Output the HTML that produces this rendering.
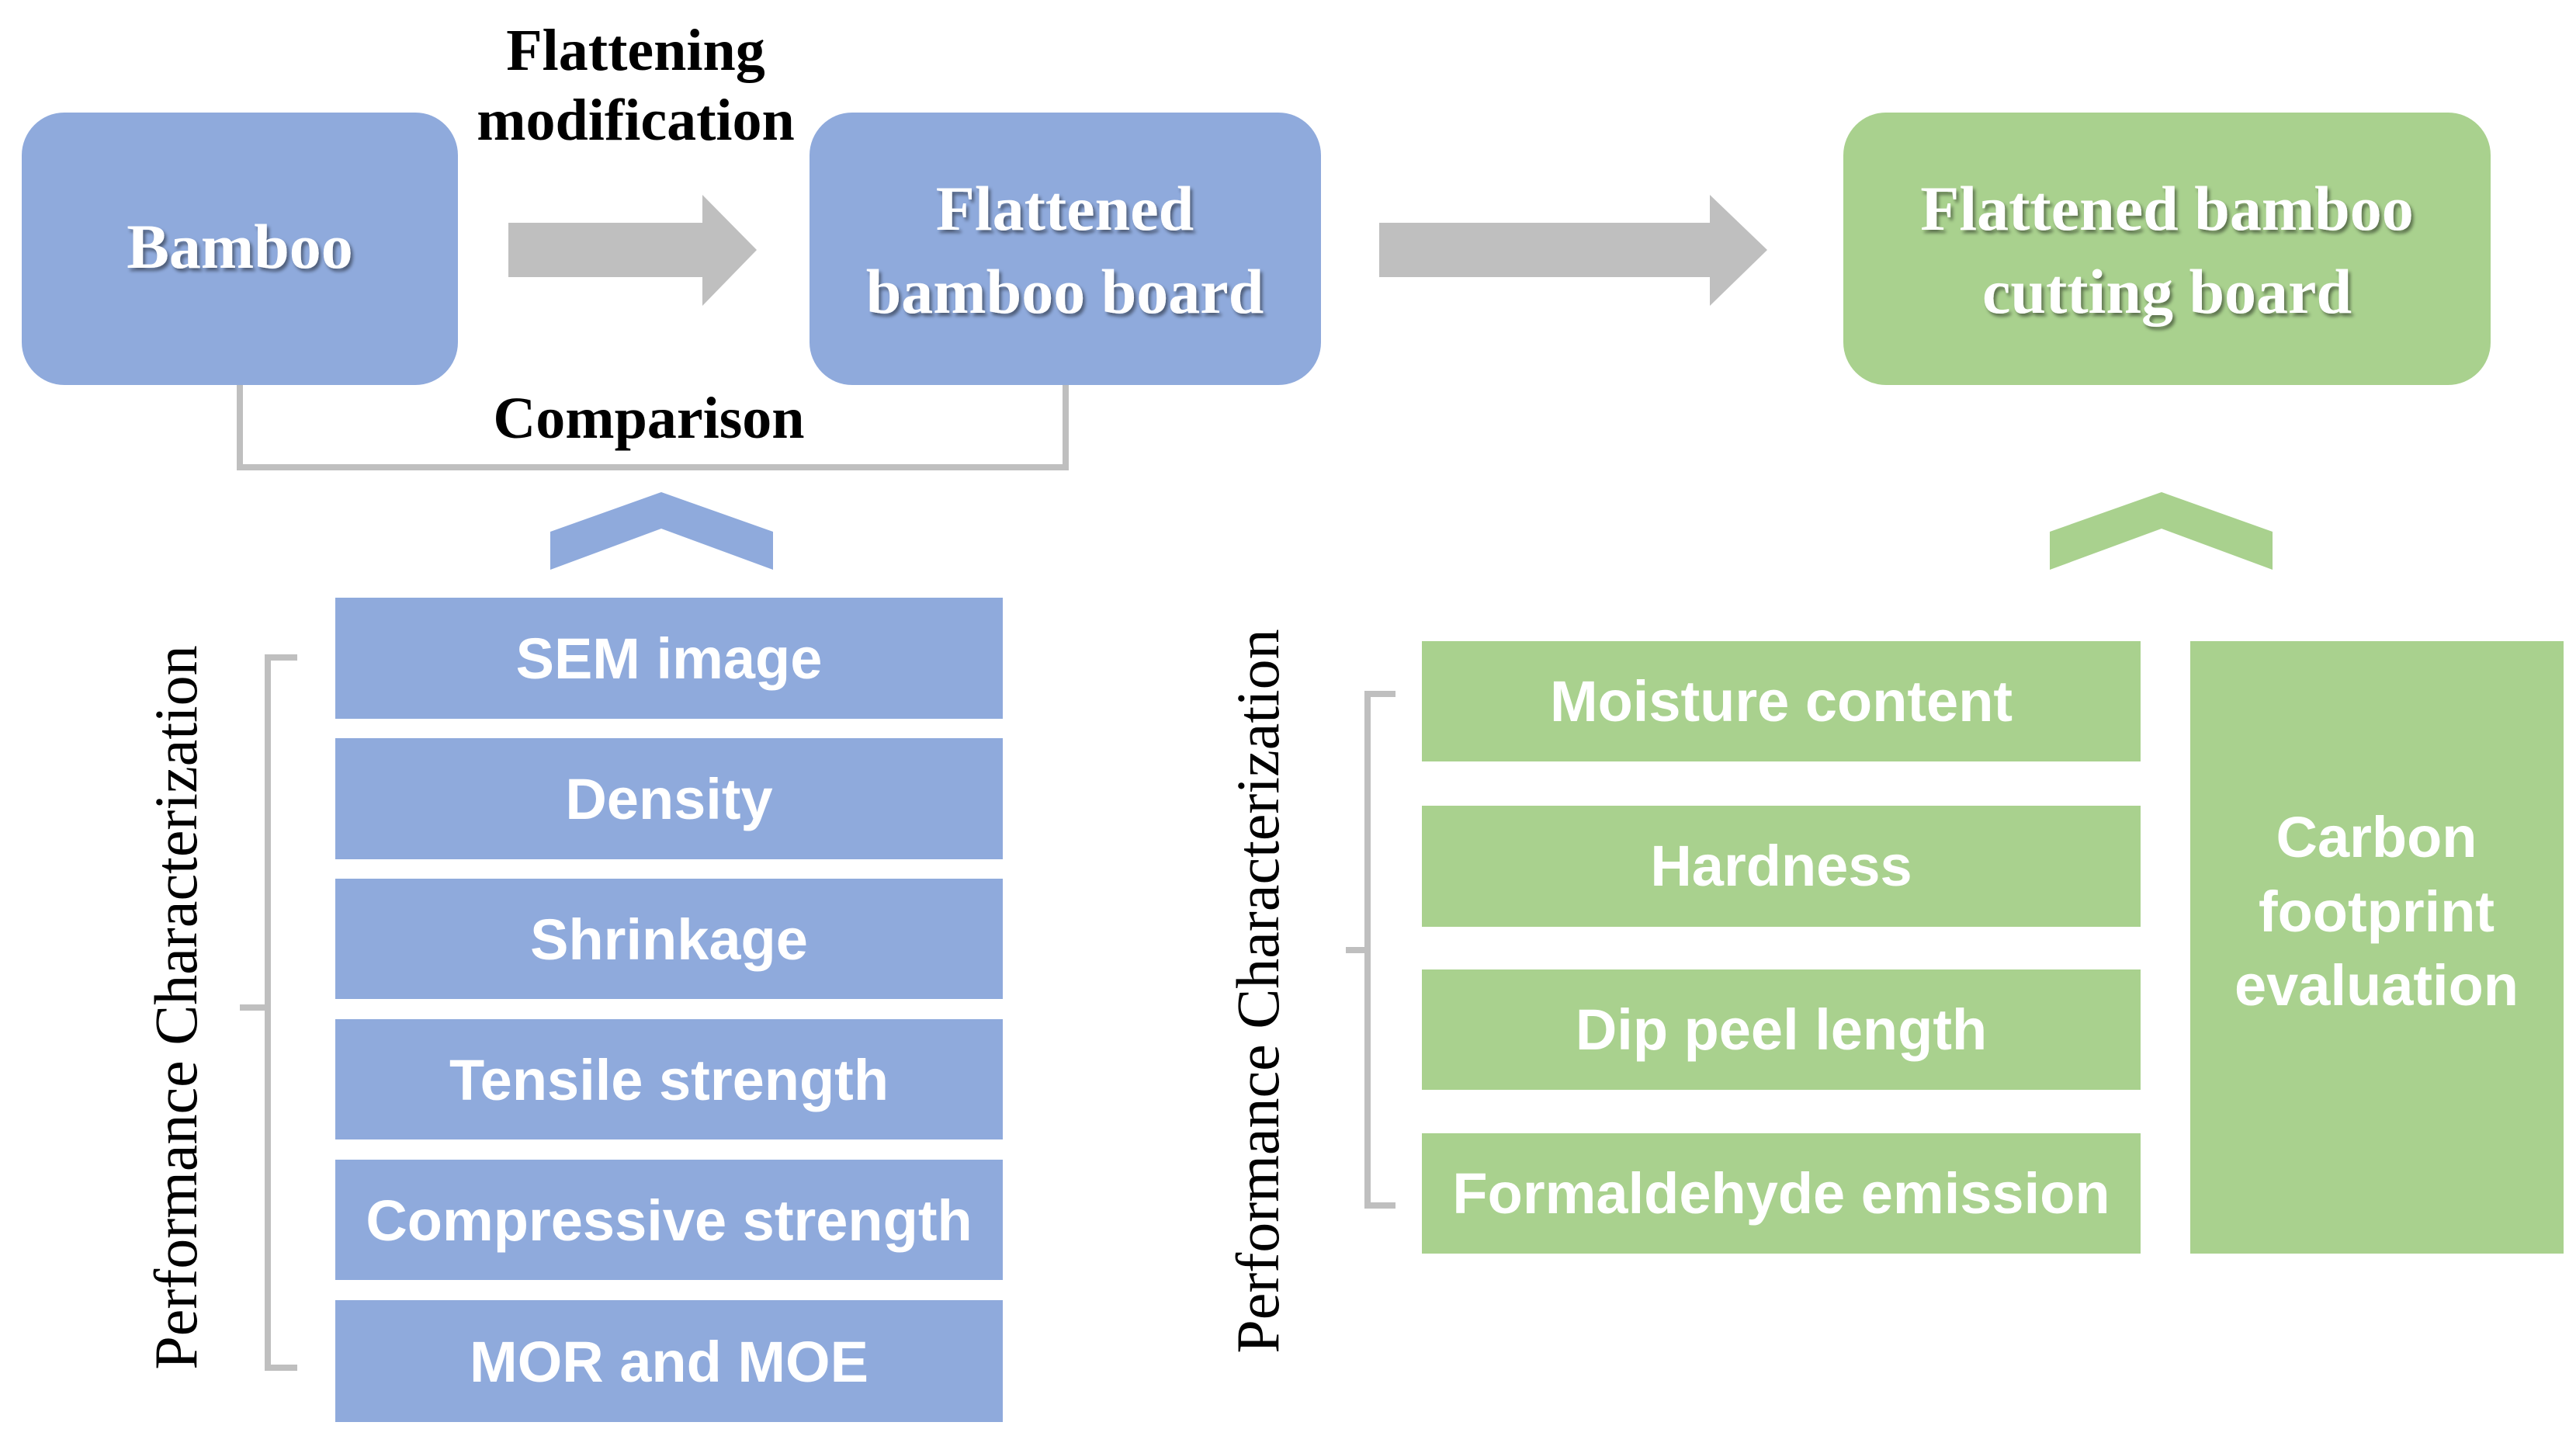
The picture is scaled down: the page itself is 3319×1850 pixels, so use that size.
<!DOCTYPE html>
<html><head><meta charset="utf-8"><style>
html,body{margin:0;padding:0;background:#fff;}
svg{display:block;}
.t{font-family:"Liberation Serif",serif;font-weight:bold;fill:#fff;text-anchor:middle;}
.k{font-family:"Liberation Serif",serif;fill:#000;text-anchor:middle;}
.s{font-family:"Liberation Sans","DejaVu Sans",sans-serif;font-weight:bold;fill:#fff;text-anchor:middle;}
</style></head><body>
<svg width="3319" height="1850" viewBox="0 0 3319 1850" xmlns="http://www.w3.org/2000/svg">
<defs><filter id="sh" x="-10%" y="-10%" width="120%" height="130%"><feDropShadow dx="3" dy="4" stdDeviation="2" flood-color="#000" flood-opacity="0.45"/></filter></defs>
<rect x="28" y="145" width="562" height="351" rx="55" fill="#8faadc"/>
<rect x="1043" y="145" width="659" height="351" rx="55" fill="#8faadc"/>
<rect x="2375" y="145" width="834" height="351" rx="55" fill="#a9d18e"/>
<g filter="url(#sh)">
<text class="t" x="309" y="345" font-size="82">Bamboo</text>
<text class="t" x="1372" y="296" font-size="82">Flattened</text>
<text class="t" x="1372" y="403" font-size="82">bamboo board</text>
<text class="t" x="2792" y="296" font-size="82">Flattened bamboo</text>
<text class="t" x="2792" y="403" font-size="82">cutting board</text>
</g>
<polygon points="655,287 905,287 905,251 975,322 905,394 905,357 655,357" fill="#bfbfbf"/>
<polygon points="1777,287 2203,287 2203,251 2277,322 2203,394 2203,357 1777,357" fill="#bfbfbf"/>
<text class="k" x="819" y="90" font-size="76" font-weight="bold">Flattening</text>
<text class="k" x="819" y="180" font-size="76" font-weight="bold">modification</text>
<polyline points="309,496 309,602 1373,602 1373,496" fill="none" stroke="#bfbfbf" stroke-width="8"/>
<text class="k" x="836" y="564" font-size="76" font-weight="bold">Comparison</text>
<polygon points="709,685 852,634 996,685 996,734 852,681 709,734" fill="#8faadc"/>
<polygon points="2641,685 2785,634 2928,685 2928,734 2785,681 2641,734" fill="#a9d18e"/>
<g fill="#8faadc">
<rect x="432" y="770" width="860" height="156"/>
<rect x="432" y="951" width="860" height="156"/>
<rect x="432" y="1132" width="860" height="155"/>
<rect x="432" y="1313" width="860" height="155"/>
<rect x="432" y="1494" width="860" height="155"/>
<rect x="432" y="1675" width="860" height="157"/>
</g>
<g font-size="74">
<text class="s" x="862" y="874">SEM image</text>
<text class="s" x="862" y="1055">Density</text>
<text class="s" x="862" y="1236">Shrinkage</text>
<text class="s" x="862" y="1417">Tensile strength</text>
<text class="s" x="862" y="1598">Compressive strength</text>
<text class="s" x="862" y="1780">MOR and MOE</text>
</g>
<polyline points="383,847 345,847 345,1762 383,1762" fill="none" stroke="#bfbfbf" stroke-width="8"/>
<line x1="309" y1="1298" x2="345" y2="1298" stroke="#bfbfbf" stroke-width="8"/>
<text class="k" font-size="78" transform="translate(253,1298) rotate(-90)">Performance Characterization</text>
<g fill="#a9d18e">
<rect x="1832" y="826" width="926" height="155"/>
<rect x="1832" y="1038" width="926" height="156"/>
<rect x="1832" y="1249" width="926" height="155"/>
<rect x="1832" y="1460" width="926" height="155"/>
<rect x="2822" y="826" width="481" height="789"/>
</g>
<g font-size="74">
<text class="s" x="2295" y="929">Moisture content</text>
<text class="s" x="2295" y="1141">Hardness</text>
<text class="s" x="2295" y="1352">Dip peel length</text>
<text class="s" x="2295" y="1563">Formaldehyde emission</text>
<text class="s" x="3062" y="1104">Carbon</text>
<text class="s" x="3062" y="1200">footprint</text>
<text class="s" x="3062" y="1295">evaluation</text>
</g>
<polyline points="1798,894 1762,894 1762,1553 1798,1553" fill="none" stroke="#bfbfbf" stroke-width="8"/>
<line x1="1734" y1="1224" x2="1762" y2="1224" stroke="#bfbfbf" stroke-width="8"/>
<text class="k" font-size="78" transform="translate(1647,1277) rotate(-90)">Performance Characterization</text>
</svg>
</body></html>
